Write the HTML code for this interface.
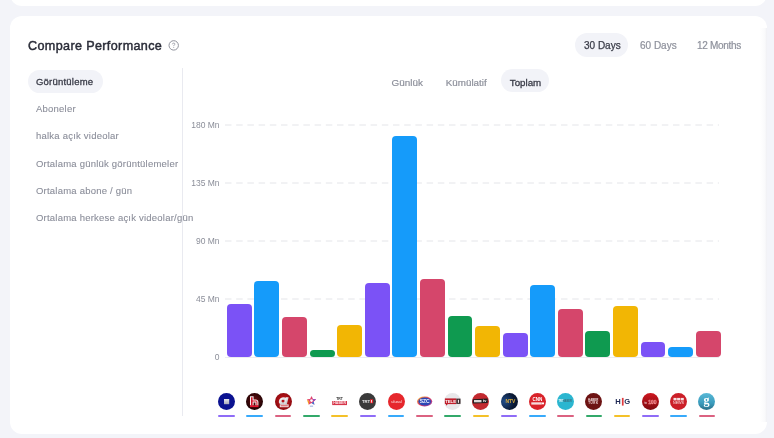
<!DOCTYPE html>
<html><head><meta charset="utf-8"><style>
html,body{margin:0;padding:0;}
body{width:774px;height:438px;background:#f3f4f9;position:relative;overflow:hidden;-webkit-font-smoothing:antialiased;font-family:"Liberation Sans",sans-serif;}
.card{position:absolute;background:#fff;border-radius:12px;}
.t{position:absolute;white-space:nowrap;line-height:1;}
.pill{position:absolute;background:#f2f3f8;border-radius:12px;}
.bar{position:absolute;border-radius:4px;}
.grid{position:absolute;height:0;border-top:1px dashed #d9dbe1;}
.lbl{position:absolute;text-align:right;white-space:nowrap;line-height:1;font-size:8.5px;color:#8b8e99;width:40px;}
.logo{position:absolute;width:17px;height:17px;border-radius:50%;overflow:hidden;}
.ul{position:absolute;height:2px;border-radius:1px;opacity:0.85;}
</style></head><body>
<div class="card" style="left:10px;top:-30px;width:757px;height:35.5px;"></div>
<div class="card" style="left:10px;top:16px;width:757px;height:418px;"></div>
<div style="position:absolute;left:760px;top:28px;width:7px;height:394px;background:linear-gradient(to right,rgba(244,245,248,0),rgba(244,245,248,0.5) 70%,rgba(238,239,243,0.9));"></div>
<div id="root" style="position:absolute;left:0;top:0;width:774px;height:438px;will-change:transform;">

<div class="t" style="left:28px;top:39.5px;font-size:12.6px;letter-spacing:0.36px;-webkit-text-stroke:0.45px #2a2c38;color:#2a2c38;">Compare Performance</div>
<svg style="position:absolute;left:167px;top:39px" width="14" height="14" viewBox="0 0 14 14"><circle cx="6.7" cy="6.4" r="4.7" fill="none" stroke="#8f919b" stroke-width="1"/><path d="M5.4 5.3 Q5.5 4.1 6.7 4.1 Q7.9 4.1 7.9 5.1 Q7.9 5.8 7.2 6.1 Q6.7 6.4 6.7 7" fill="none" stroke="#9a9ca6" stroke-width="0.9"/><circle cx="6.7" cy="8.3" r="0.55" fill="#9a9ca6"/></svg>
<div class="pill" style="left:575px;top:33px;width:53px;height:24px;"></div>
<div class="t" style="left:584px;top:40.8px;font-size:10px;-webkit-text-stroke:0.25px #3a3c48;color:#3a3c48;">30 Days</div>
<div class="t" style="left:640px;top:40.8px;font-size:10px;-webkit-text-stroke:0.2px #8d909b;color:#8d909b;">60 Days</div>
<div class="t" style="left:697px;top:40.8px;font-size:10px;letter-spacing:-0.3px;-webkit-text-stroke:0.2px #8d909b;color:#8d909b;">12 Months</div>
<div class="pill" style="left:28px;top:69.5px;width:74.5px;height:23px;"></div>
<div class="t" style="left:36px;top:76.9px;font-size:9.5px;letter-spacing:0.22px;-webkit-text-stroke:0.3px #3a3c48;color:#3a3c48;">Görüntüleme</div>
<div class="t" style="left:36px;top:104.1px;font-size:9.5px;letter-spacing:0.22px;-webkit-text-stroke:0.1px #8a8d99;color:#8a8d99;">Aboneler</div>
<div class="t" style="left:36px;top:131.4px;font-size:9.5px;letter-spacing:0.22px;-webkit-text-stroke:0.1px #8a8d99;color:#8a8d99;">halka açık videolar</div>
<div class="t" style="left:36px;top:158.7px;font-size:9.5px;letter-spacing:0.22px;-webkit-text-stroke:0.1px #8a8d99;color:#8a8d99;">Ortalama günlük görüntülemeler</div>
<div class="t" style="left:36px;top:186.0px;font-size:9.5px;letter-spacing:0.22px;-webkit-text-stroke:0.1px #8a8d99;color:#8a8d99;">Ortalama abone / gün</div>
<div class="t" style="left:36px;top:213.3px;font-size:9.5px;letter-spacing:0.22px;-webkit-text-stroke:0.1px #8a8d99;color:#8a8d99;">Ortalama herkese açık videolar/gün</div>
<div style="position:absolute;left:182px;top:68.4px;width:1px;height:347.4px;background:#e9eaf0;"></div>
<div class="pill" style="left:501.4px;top:69.2px;width:48px;height:23.2px;"></div>
<div class="t" style="left:391.6px;top:77.8px;font-size:9.9px;-webkit-text-stroke:0.2px #8d909b;color:#8d909b;">Günlük</div>
<div class="t" style="left:445.8px;top:77.9px;font-size:9.8px;-webkit-text-stroke:0.2px #8d909b;color:#8d909b;">Kümülatif</div>
<div class="t" style="left:509.8px;top:77.9px;font-size:9.75px;-webkit-text-stroke:0.3px #3a3c48;color:#3a3c48;">Toplam</div>
<svg style="position:absolute;left:225px;top:123.7px" width="494" height="2"><line x1="0" y1="1" x2="494" y2="1" stroke="#e4e5e9" stroke-width="1" stroke-dasharray="6.5 4.7"/></svg>
<div class="lbl" style="left:179.6px;top:121.1px;">180 Mn</div>
<svg style="position:absolute;left:225px;top:181.7px" width="494" height="2"><line x1="0" y1="1" x2="494" y2="1" stroke="#e4e5e9" stroke-width="1" stroke-dasharray="6.5 4.7"/></svg>
<div class="lbl" style="left:179.6px;top:179.1px;">135 Mn</div>
<svg style="position:absolute;left:225px;top:239.7px" width="494" height="2"><line x1="0" y1="1" x2="494" y2="1" stroke="#e4e5e9" stroke-width="1" stroke-dasharray="6.5 4.7"/></svg>
<div class="lbl" style="left:179.6px;top:237.1px;">90 Mn</div>
<svg style="position:absolute;left:225px;top:297.7px" width="494" height="2"><line x1="0" y1="1" x2="494" y2="1" stroke="#e4e5e9" stroke-width="1" stroke-dasharray="6.5 4.7"/></svg>
<div class="lbl" style="left:179.6px;top:295.1px;">45 Mn</div>
<div style="position:absolute;left:225px;top:356.5px;width:494px;height:1px;background:#ececf0;"></div>
<div class="lbl" style="left:179.6px;top:353.1px;">0</div>
<div class="bar" style="left:226.90px;top:304.3px;width:24.9px;height:52.9px;background:#7b52f6;"></div>
<div class="bar" style="left:254.48px;top:281.0px;width:24.9px;height:76.2px;background:#159bfa;"></div>
<div class="bar" style="left:282.06px;top:316.6px;width:24.9px;height:40.6px;background:#d5466b;"></div>
<div class="bar" style="left:309.64px;top:350.0px;width:24.9px;height:7.2px;background:#0f9a50;"></div>
<div class="bar" style="left:337.22px;top:325.2px;width:24.9px;height:32.0px;background:#f2b604;"></div>
<div class="bar" style="left:364.80px;top:283.0px;width:24.9px;height:74.2px;background:#7b52f6;"></div>
<div class="bar" style="left:392.38px;top:135.9px;width:24.9px;height:221.3px;background:#159bfa;"></div>
<div class="bar" style="left:419.96px;top:279.3px;width:24.9px;height:77.9px;background:#d5466b;"></div>
<div class="bar" style="left:447.54px;top:315.7px;width:24.9px;height:41.5px;background:#0f9a50;"></div>
<div class="bar" style="left:475.12px;top:325.5px;width:24.9px;height:31.7px;background:#f2b604;"></div>
<div class="bar" style="left:502.70px;top:332.8px;width:24.9px;height:24.4px;background:#7b52f6;"></div>
<div class="bar" style="left:530.28px;top:285.1px;width:24.9px;height:72.1px;background:#159bfa;"></div>
<div class="bar" style="left:557.86px;top:308.8px;width:24.9px;height:48.4px;background:#d5466b;"></div>
<div class="bar" style="left:585.44px;top:331.0px;width:24.9px;height:26.2px;background:#0f9a50;"></div>
<div class="bar" style="left:613.02px;top:306.0px;width:24.9px;height:51.2px;background:#f2b604;"></div>
<div class="bar" style="left:640.60px;top:341.7px;width:24.9px;height:15.5px;background:#7b52f6;"></div>
<div class="bar" style="left:668.18px;top:347.2px;width:24.9px;height:10.0px;background:#159bfa;"></div>
<div class="bar" style="left:695.76px;top:331.0px;width:24.9px;height:26.2px;background:#d5466b;"></div>
<svg style="position:absolute;left:218.00px;top:392.9px" width="17" height="17" viewBox="0 0 17 17"><defs><linearGradient id="sq" x1="0" y1="0" x2="0" y2="1"><stop offset="0" stop-color="#e6e6ee"/><stop offset="1" stop-color="#a9aab8"/></linearGradient></defs><circle cx="8.5" cy="8.5" r="8.5" fill="#0b1290"/><rect x="6" y="6" width="5.2" height="5.2" fill="url(#sq)"/></svg>
<div class="ul" style="left:218.20px;top:415.2px;width:16.6px;background:#7b52f6;"></div>
<svg style="position:absolute;left:246.26px;top:392.9px" width="17" height="17" viewBox="0 0 17 17"><defs><radialGradient id="hg" cx="0.5" cy="0.45" r="0.55"><stop offset="0" stop-color="#6e0d10"/><stop offset="1" stop-color="#1c0304"/></radialGradient></defs><circle cx="8.5" cy="8.5" r="8.5" fill="url(#hg)"/><path d="M4 3.3H7.6V6.4H9.8C11.3 6.4 12.4 7.5 12.4 9V12.4H9.4V9.4H7.6V12.4H4Z" fill="#f4f0f0"/><path d="M5 4.3H6.6V7.4H9.8C10.7 7.4 11.4 8.1 11.4 9V12.4H10.4V8.4H6.6V12.4H5Z" fill="#d6162c"/><rect x="4" y="12.4" width="8.5" height="1.7" fill="#e4132e"/></svg>
<div class="ul" style="left:246.46px;top:415.2px;width:16.6px;background:#159bfa;"></div>
<svg style="position:absolute;left:274.52px;top:392.9px" width="17" height="17" viewBox="0 0 17 17"><defs><radialGradient id="ag" cx="0.5" cy="0.45" r="0.55"><stop offset="0" stop-color="#c8141b"/><stop offset="1" stop-color="#8c0b10"/></radialGradient><linearGradient id="as" x1="0" y1="0" x2="1" y2="1"><stop offset="0" stop-color="#ffffff"/><stop offset="1" stop-color="#b9b9bd"/></linearGradient></defs><circle cx="8.5" cy="8.5" r="8.5" fill="url(#ag)"/><g transform="translate(2.2 0) skewX(-14)" fill="url(#as)"><ellipse cx="7.6" cy="7.9" rx="3.9" ry="3.7"/><rect x="9.6" y="4.2" width="2.9" height="7.4"/></g><ellipse cx="8" cy="8.1" rx="1.5" ry="1.4" fill="#b8131a"/><rect x="4.8" y="11.4" width="8.8" height="2.8" fill="#f2f2f2"/><rect x="5.6" y="12.3" width="7.2" height="1" fill="#d8474c"/></svg>
<div class="ul" style="left:274.72px;top:415.2px;width:16.6px;background:#d5466b;"></div>
<svg style="position:absolute;left:302.78px;top:392.9px" width="17" height="17" viewBox="0 0 17 17"><circle cx="8.5" cy="8.5" r="8.5" fill="#fff"/><g transform="translate(8.5 7.6)"><path d="M0 -4.6L1.45 -1.55 4.6 -1.45 2.2 0.8 2.9 4.1 0 2.5 -2.9 4.1 -2.2 0.8 -4.6 -1.45 -1.45 -1.55Z" fill="#e4416c"/><path d="M0 -4.6L1.45 -1.55 4.6 -1.45 2.2 0.8Z" fill="#8d4fc4"/><path d="M2.2 0.8L2.9 4.1 0 2.5Z" fill="#3b78d8"/><path d="M-2.9 4.1L-2.2 0.8 -4.6 -1.45Z" fill="#f59b20"/><circle cx="0" cy="0" r="1.3" fill="#fff"/></g><rect x="6.9" y="12.7" width="3.2" height="0.9" fill="#8fa2d6"/></svg>
<div class="ul" style="left:302.98px;top:415.2px;width:16.6px;background:#0f9a50;"></div>
<svg style="position:absolute;left:331.04px;top:392.9px" width="17" height="17" viewBox="0 0 17 17"><circle cx="8.5" cy="8.5" r="8.5" fill="#fff"/><text x="8.5" y="7" font-size="3.4" font-weight="bold" fill="#2a2a2a" text-anchor="middle" font-family="Liberation Sans">TRT</text><rect x="1.2" y="8" width="14.8" height="4.1" fill="#d63449"/><text x="8.6" y="11.3" font-size="3.6" font-weight="bold" fill="#fbe3e6" text-anchor="middle" font-family="Liberation Sans">HABER</text></svg>
<div class="ul" style="left:331.24px;top:415.2px;width:16.6px;background:#f2b604;"></div>
<svg style="position:absolute;left:359.30px;top:392.9px" width="17" height="17" viewBox="0 0 17 17"><circle cx="8.5" cy="8.5" r="8.5" fill="#3a3a3a"/><text x="7" y="10" font-size="4.2" font-weight="bold" fill="#ececec" text-anchor="middle" font-family="Liberation Sans">TRT</text><rect x="11" y="6.3" width="3.1" height="3.9" fill="#e0262e"/><rect x="12.2" y="7" width="0.8" height="2.6" fill="#fff"/></svg>
<div class="ul" style="left:359.50px;top:415.2px;width:16.6px;background:#7b52f6;"></div>
<svg style="position:absolute;left:387.56px;top:392.9px" width="17" height="17" viewBox="0 0 17 17"><circle cx="8.5" cy="8.5" r="8.5" fill="#e6272c"/><text x="8.5" y="9.6" font-size="4" fill="#fde6e6" text-anchor="middle" font-family="Liberation Sans">ulusal</text></svg>
<div class="ul" style="left:387.76px;top:415.2px;width:16.6px;background:#159bfa;"></div>
<svg style="position:absolute;left:415.82px;top:392.9px" width="17" height="17" viewBox="0 0 17 17"><defs><linearGradient id="sz" x1="0" y1="0" x2="1" y2="1"><stop offset="0" stop-color="#f4c33a"/><stop offset="0.5" stop-color="#e5395a"/><stop offset="1" stop-color="#7b3fb0"/></linearGradient></defs><ellipse cx="8.6" cy="8.5" rx="7.6" ry="5.1" fill="url(#sz)"/><ellipse cx="8.7" cy="8.5" rx="6.3" ry="4" fill="#2b47b5"/><text x="8.7" y="10.3" font-size="5" font-weight="bold" fill="#f2f4ff" text-anchor="middle" font-family="Liberation Sans">SZC</text></svg>
<div class="ul" style="left:416.02px;top:415.2px;width:16.6px;background:#d5466b;"></div>
<svg style="position:absolute;left:444.08px;top:392.9px" width="17" height="17" viewBox="0 0 17 17"><circle cx="8.5" cy="8.5" r="8.5" fill="#e8e8ea"/><rect x="0.9" y="5.4" width="11.4" height="5.7" fill="#c01f2c"/><path d="M2 11.1v1.6l1.8-1.6z" fill="#c01f2c"/><rect x="12.3" y="5.6" width="4.2" height="5.3" fill="#3b2b2d"/><text x="6.6" y="9.9" font-size="4.2" font-weight="bold" fill="#fff" text-anchor="middle" font-family="Liberation Sans">TELE</text><rect x="13.9" y="6.8" width="1" height="3" fill="#fff"/></svg>
<div class="ul" style="left:444.28px;top:415.2px;width:16.6px;background:#0f9a50;"></div>
<svg style="position:absolute;left:472.34px;top:392.9px" width="17" height="17" viewBox="0 0 17 17"><circle cx="8.5" cy="8.5" r="8.5" fill="#c2292f"/><path d="M0.7 6.3L15.7 5.6V10.1L0.7 10.4z" fill="#241c1e"/><rect x="2" y="7" width="7.5" height="2.3" fill="#ddd6d6"/><text x="12.6" y="9.4" font-size="3.8" font-weight="bold" fill="#fff" text-anchor="middle" font-family="Liberation Sans">tv</text></svg>
<div class="ul" style="left:472.54px;top:415.2px;width:16.6px;background:#f2b604;"></div>
<svg style="position:absolute;left:500.60px;top:392.9px" width="17" height="17" viewBox="0 0 17 17"><defs><radialGradient id="nt" cx="0.2" cy="0.5" r="0.6"><stop offset="0" stop-color="#1f4c8a"/><stop offset="1" stop-color="#0a1832"/></radialGradient></defs><circle cx="8.5" cy="8.5" r="8.5" fill="url(#nt)"/><text x="9.4" y="10.4" font-size="5" font-weight="bold" fill="#d8ab3e" text-anchor="middle" font-family="Liberation Sans">NTV</text></svg>
<div class="ul" style="left:500.80px;top:415.2px;width:16.6px;background:#7b52f6;"></div>
<svg style="position:absolute;left:528.86px;top:392.9px" width="17" height="17" viewBox="0 0 17 17"><circle cx="8.5" cy="8.5" r="8.5" fill="#d9232a"/><text x="8.4" y="8.1" font-size="4.6" font-weight="bold" fill="#fff" text-anchor="middle" font-family="Liberation Sans">CNN</text><rect x="2.3" y="9.3" width="10.5" height="2.3" fill="#f6dcdc"/><circle cx="14" cy="10.4" r="1.1" fill="#fff"/></svg>
<div class="ul" style="left:529.06px;top:415.2px;width:16.6px;background:#159bfa;"></div>
<svg style="position:absolute;left:557.12px;top:392.9px" width="17" height="17" viewBox="0 0 17 17"><circle cx="8.5" cy="8.5" r="8.5" fill="#2bb6d0"/><text x="4" y="9" font-size="2.6" font-weight="bold" fill="#f2fbfd" text-anchor="middle" font-family="Liberation Sans">TRT</text><text x="10.3" y="9" font-size="2.6" font-weight="bold" fill="#3c6f7e" text-anchor="middle" font-family="Liberation Sans">HABER</text></svg>
<div class="ul" style="left:557.32px;top:415.2px;width:16.6px;background:#d5466b;"></div>
<svg style="position:absolute;left:585.38px;top:392.9px" width="17" height="17" viewBox="0 0 17 17"><circle cx="8.5" cy="8.5" r="8.5" fill="#6d1313"/><text x="8.2" y="7.5" font-size="2.9" font-weight="bold" fill="#f3dede" text-anchor="middle" font-family="Liberation Sans">HABER</text><text x="8.4" y="10.6" font-size="2.9" font-weight="bold" fill="#f0d6d6" text-anchor="middle" letter-spacing="0.6" font-family="Liberation Sans">TURK</text></svg>
<div class="ul" style="left:585.58px;top:415.2px;width:16.6px;background:#0f9a50;"></div>
<svg style="position:absolute;left:613.64px;top:392.9px" width="17" height="17" viewBox="0 0 17 17"><circle cx="8.5" cy="8.5" r="8.5" fill="#fff"/><text x="4.1" y="11.3" font-size="7.6" font-weight="bold" fill="#1c2652" text-anchor="middle" font-family="Liberation Sans">H</text><text x="13.1" y="11.3" font-size="7.6" font-weight="bold" fill="#1c2652" text-anchor="middle" font-family="Liberation Sans">G</text><rect x="7.9" y="4.9" width="1.7" height="7.7" fill="#e03a3e"/></svg>
<div class="ul" style="left:613.84px;top:415.2px;width:16.6px;background:#f2b604;"></div>
<svg style="position:absolute;left:641.90px;top:392.9px" width="17" height="17" viewBox="0 0 17 17"><defs><linearGradient id="tv" x1="0" y1="0" x2="0" y2="1"><stop offset="0" stop-color="#cf1720"/><stop offset="1" stop-color="#7e0a10"/></linearGradient></defs><circle cx="8.5" cy="8.5" r="8.5" fill="url(#tv)"/><text x="3.7" y="11" font-size="3.4" fill="#fff" text-anchor="middle" font-family="Liberation Sans">tv</text><text x="10.3" y="11" font-size="5" font-weight="bold" fill="none" stroke="#f08a8e" stroke-width="0.5" text-anchor="middle" font-family="Liberation Sans">100</text></svg>
<div class="ul" style="left:642.10px;top:415.2px;width:16.6px;background:#7b52f6;"></div>
<svg style="position:absolute;left:670.16px;top:392.9px" width="17" height="17" viewBox="0 0 17 17"><circle cx="8.5" cy="8.5" r="8.5" fill="#cb1f28"/><rect x="3.5" y="4.9" width="3.1" height="2.5" fill="#f6e2e3"/><rect x="7.1" y="4.9" width="3.1" height="2.5" fill="#f6e2e3"/><rect x="10.7" y="4.9" width="3.1" height="2.5" fill="#f6e2e3"/><text x="8.5" y="11.1" font-size="3.7" fill="#fbe8e8" text-anchor="middle" font-family="Liberation Sans">NEWS</text></svg>
<div class="ul" style="left:670.36px;top:415.2px;width:16.6px;background:#159bfa;"></div>
<svg style="position:absolute;left:698.42px;top:392.9px" width="17" height="17" viewBox="0 0 17 17"><defs><linearGradient id="gg" x1="0" y1="0" x2="0" y2="1"><stop offset="0" stop-color="#58b8d6"/><stop offset="0.6" stop-color="#3b9cbd"/><stop offset="1" stop-color="#2a6f88"/></linearGradient></defs><circle cx="8.5" cy="8.5" r="8.5" fill="url(#gg)"/><text x="8.6" y="11.4" font-size="12" font-weight="bold" fill="#fff" text-anchor="middle" font-family="Liberation Serif">g</text></svg>
<div class="ul" style="left:698.62px;top:415.2px;width:16.6px;background:#d5466b;"></div>
</div></body></html>
